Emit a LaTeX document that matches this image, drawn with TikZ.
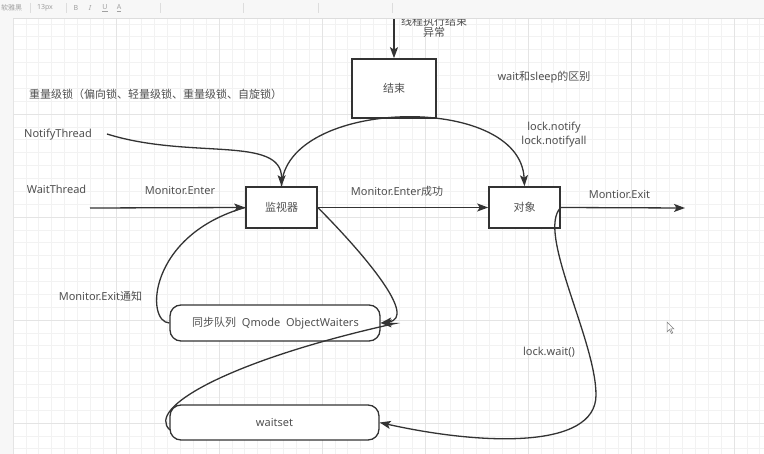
\documentclass[tikz,border=0pt]{standalone}
\usepackage{fontspec}
\setmainfont{Noto Sans}
\newfontfamily\cjk{Noto Sans CJK SC}
\usetikzlibrary{arrows.meta}
\definecolor{txt}{HTML}{505050}
\definecolor{ln}{HTML}{333333}
\definecolor{gridminor}{HTML}{F2F2F2}
\definecolor{gridmajor}{HTML}{E4E4E4}
\definecolor{chrome}{HTML}{F7F7F7}
\definecolor{chromeline}{HTML}{DDDDDD}
\definecolor{chrometext}{HTML}{A0A0A0}
\begin{document}
\begin{tikzpicture}[x=1pt,y=-1pt,
  every node/.style={font=\fontsize{11}{13}\selectfont, text=txt},
  box/.style={draw=ln, line width=1.6pt, fill=white, inner sep=0pt},
  pill/.style={draw=ln, line width=1.3pt, fill=white, rounded corners=11pt, inner sep=0pt},
  wire/.style={draw=ln, line width=1.3pt},
  conn/.style={wire, -{Stealth[length=11pt,width=8pt,inset=2.5pt]}},
  lbl/.style={inner sep=0pt},
  tool/.style={inner sep=0pt, text=chrometext, font=\fontsize{7}{8}\selectfont}]

\useasboundingbox (0,0) rectangle (764,454);
\fill[white] (0,0) rectangle (764,454);

% canvas grid
\foreach \i in {0,...,58} {
  \pgfmathsetmacro\gx{13+12.875*\i}
  \draw[gridminor, line width=0.6pt] (\gx,18) -- (\gx,454);
}
\foreach \i in {1,...,34} {
  \pgfmathsetmacro\gy{11+12.875*\i}
  \draw[gridminor, line width=0.6pt] (13,\gy) -- (764,\gy);
}
\foreach \i in {0,...,7} {
  \pgfmathsetmacro\gx{13+103*\i}
  \draw[gridmajor, line width=0.9pt] (\gx,18) -- (\gx,454);
}
\foreach \i in {1,...,4} {
  \pgfmathsetmacro\gy{11+103*\i}
  \draw[gridmajor, line width=0.9pt] (13,\gy) -- (764,\gy);
}

% boxes
\node[box, minimum width=84pt, minimum height=59pt] (end) at (394,88.5) {\cjk 结束};
\node[box, minimum width=71pt, minimum height=41pt] (mon) at (281.5,207.5) {\cjk 监视器};
\node[box, minimum width=71pt, minimum height=41pt] (obj) at (524.5,207.5) {\cjk 对象};
\node[pill, minimum width=210pt, minimum height=36pt] (sync) at (275,323) {};
\node[lbl] (synctext) at (275.5,323.5) {{\cjk 同步队列}\ \ Qmode\ \ ObjectWaiters};
\node[pill, minimum width=209pt, minimum height=35pt] (ws) at (274.5,422.5) {};
\node[lbl] (wstext) at (274.5,423) {waitset};

% free labels
\node[lbl] (cause1) at (434,21.5) {\cjk 线程执行结束};
\node[lbl] (cause2) at (434,32.5) {\cjk 异常};
\node[lbl] (diff) at (544,77) {wait{\cjk 和}sleep{\cjk 的区别}};
\node[lbl, anchor=west] (locks) at (29,94) {\cjk 重量级锁（偏向锁、轻量级锁、重量级锁、自旋锁）};
\node[lbl] (nt) at (58,135) {NotifyThread};
\node[lbl] (wt) at (56.5,189) {WaitThread};
\node[lbl] (enter) at (180,191) {Monitor.Enter};
\node[lbl] (notify1) at (554,128) {lock.notify};
\node[lbl] (notify2) at (554,141.5) {lock.notifyall};
\node[lbl] (entered) at (397,191) {Monitor.Enter{\cjk 成功}};
\node[lbl] (exit) at (619.5,195) {Montior.Exit};
\node[lbl] (exitnote) at (100.5,296) {Monitor.Exit{\cjk 通知}};
\node[lbl] (waitlbl) at (549,352) {lock.wait()};

% loose connector ends
\coordinate (topin) at (394,14);
\coordinate (ntout) at (107,134);
\coordinate (wtin) at (90,208);
\coordinate (exitout) at (685,208);
\coordinate (wsout) at (170,430);
\coordinate (syncbend) at (395,323.5);

% connectors
\draw[conn, line width=1.8pt] (topin) -- (end.north);
\draw[conn] (ntout) .. controls (190,160) and (282,135) .. (mon.north);
\draw[conn] (mon.north) .. controls (285,98) and (520,92) .. (obj.north);
\draw[conn] (wtin) -- (mon.west);
\draw[conn] (mon.east) -- (obj.west);
\draw[conn] (obj.east) -- (exitout);
\draw[conn] (mon.east) .. controls (365,255) and (418,318) .. (sync.east);
\draw[wire] (sync.west) .. controls (145,322) and (148,235) .. (mon.west);
\draw[conn] (wsout) .. controls (145,408) and (230,360) .. (syncbend) -- (sync.east);
\draw[conn] (obj.east) .. controls (536,232) and (596,340) .. (596,395)
            .. controls (596,450) and (480,445) .. (ws.east);

% mouse pointer
\draw[line width=0.5pt, draw=gray, fill=white] (667,322) -- (667,332) -- (669.5,329.5) -- (671.5,333.5) -- (672.8,332.8) -- (670.8,329) -- (674,329) -- cycle;

% editor toolbar and side strip
\fill[chrome] (0,0) rectangle (764,18);
\draw[chromeline, line width=0.6pt] (0,18) -- (764,18);
\fill[chrome] (0,18) rectangle (13,454);
\node[tool, anchor=west] (tfont) at (1,8) {\cjk 软雅黑};
\node[tool] (tsize) at (45,8) {13px};
\node[tool, font=\bfseries\fontsize{7}{8}\selectfont] (tb) at (76,8) {B};
\node[tool, font=\itshape\fontsize{7}{8}\selectfont] (ti) at (90,8) {I};
\node[tool] (tu) at (105,8) {\underline{U}};
\node[tool] (ta) at (119,8) {\underline{A}};
\foreach \sx in {30,66,160,243,318,392} {
  \draw[chromeline, line width=0.6pt] (\sx,3) -- (\sx,13);
}
\end{tikzpicture}
\end{document}
